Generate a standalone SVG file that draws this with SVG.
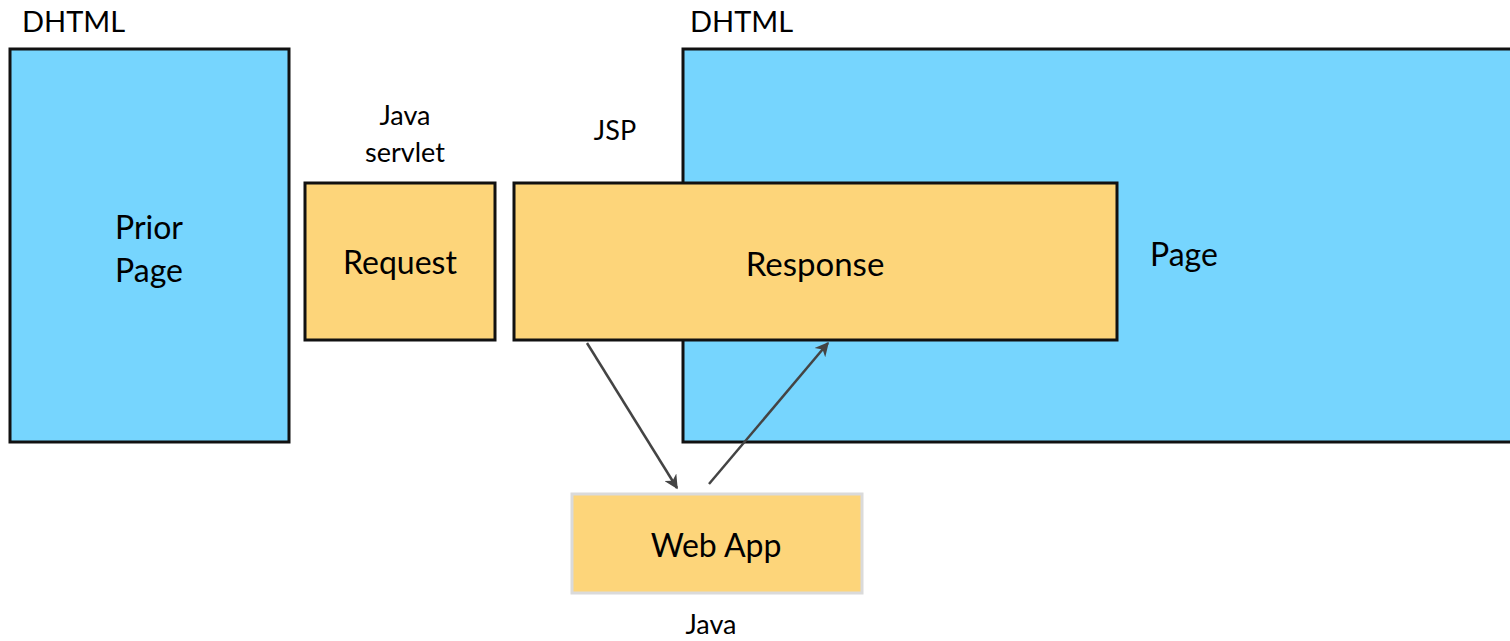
<svg xmlns="http://www.w3.org/2000/svg" width="1510" height="641" viewBox="0 0 1510 641">
  <style>
    .page { fill: #76D5FE; stroke: #111; stroke-width: 3; }
    .box { fill: #FDD57A; stroke: #111; stroke-width: 3; }
    .app { fill: #FDD57A; stroke: #DADADA; stroke-width: 3; }
    text { font-family: "Lato", "Open Sans", "Liberation Sans", sans-serif; fill: #000; }
    .lbl { font-size: 27px; }
    .hdr { font-size: 29px; }
    .big { font-size: 32px; }
    .mid { text-anchor: middle; }
    .conn { stroke: #444; stroke-width: 2.5; fill: none; marker-end: url(#arrow); }
  </style>
  <defs>
    <marker id="arrow" viewBox="0 0 10 10" refX="9" refY="5" markerWidth="16" markerHeight="14" markerUnits="userSpaceOnUse" orient="auto">
      <path d="M0,0 L10,5 L0,10 L3,5 z" fill="#444"/>
    </marker>
  </defs>
  <rect width="1510" height="641" fill="#fff"/>

  <g id="prior-page">
    <text x="22" y="32" class="hdr">DHTML</text>
    <rect x="10" y="49" width="279" height="393" class="page"/>
    <text x="149" y="239" class="big mid">Prior</text>
    <text x="149" y="282" class="big mid">Page</text>
  </g>

  <g id="page">
    <text x="690" y="32" class="hdr">DHTML</text>
    <rect x="683" y="49" width="840" height="393" class="page"/>
    <text x="1150" y="266" class="big">Page</text>
  </g>

  <g id="request">
    <text x="405" y="125" class="lbl mid">Java</text>
    <text x="405" y="162" class="lbl mid">servlet</text>
    <rect x="305" y="183" width="190" height="157" class="box"/>
    <text x="400" y="274" class="big mid">Request</text>
  </g>

  <g id="response">
    <text x="615" y="140" class="lbl mid">JSP</text>
    <rect x="514" y="183" width="603" height="157" class="box"/>
    <text x="815" y="276" class="big mid" style="font-size:33px">Response</text>
  </g>

  <g id="web-app">
    <rect x="572" y="494" width="290" height="99" class="app"/>
    <text x="716" y="557" class="big mid">Web App</text>
    <text x="711" y="634" class="lbl mid">Java</text>
  </g>

  <g id="connectors">
    <line x1="587" y1="343" x2="677" y2="488" class="conn"/>
    <line x1="709" y1="484" x2="828" y2="343" class="conn"/>
  </g>
</svg>
